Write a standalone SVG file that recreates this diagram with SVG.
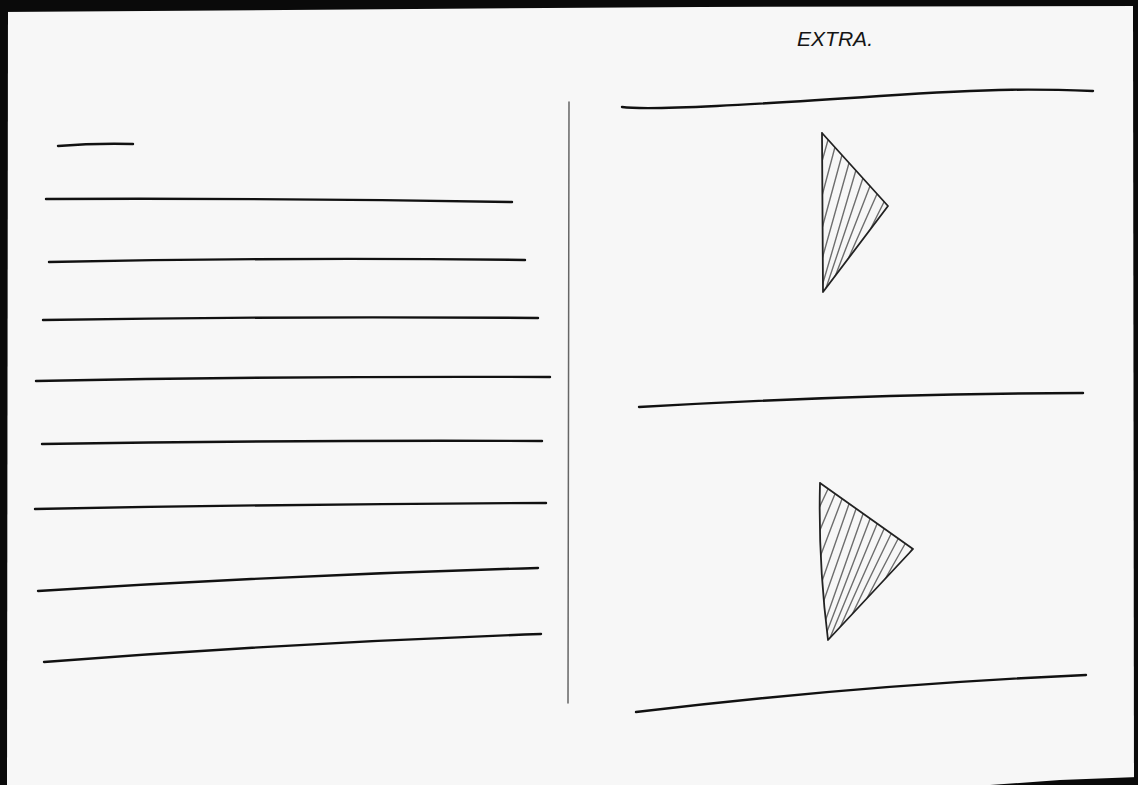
<svg xmlns="http://www.w3.org/2000/svg" width="1138" height="785" viewBox="0 0 1138 785">
<style>
.pen{fill:none;stroke:#111;stroke-width:2.4;stroke-linecap:round;stroke-linejoin:round}
.div{fill:none;stroke:#666;stroke-width:1.5;stroke-linecap:round}
.hatch{fill:none;stroke:#6e6e6e;stroke-width:1.4;stroke-linecap:round}
.edge{fill:none;stroke:#222;stroke-width:1.8;stroke-linecap:round;stroke-linejoin:round}
.frame{fill:#0a0a0a}
</style>
<defs>
<clipPath id="c1"><path d="M822,133 L888,206 L823,292 Z"/></clipPath>
<clipPath id="c2"><path d="M820,483 L913,549 L828,640 Q818,560 820,483 Z"/></clipPath>
</defs>
<rect x="0" y="0" width="1138" height="785" fill="#f7f7f7"/>
<g id="frame">
<path class="frame" d="M0,0 L1138,0 L1138,6 L700,7 L0,12 Z"/>
<path class="frame" d="M0,0 L8,0 L7,785 L0,785 Z"/>
<path class="frame" d="M1133,6 L1138,6 L1138,785 L1134,785 Z"/>
<path class="frame" d="M990,785 L1138,785 L1138,777 L1060,780 Z"/>
</g>
<g id="title">
<text x="797" y="46" font-family="Liberation Sans, sans-serif" font-size="21" font-style="italic" fill="#151515" textLength="76" lengthAdjust="spacingAndGlyphs">EXTRA.</text>
</g>
<g id="left-lines">
<path class="pen" d="M58,146 Q95,143 133,144"/>
<path class="pen" d="M46,199 Q280,198 512,202"/>
<path class="pen" d="M49,262 Q290,257 525,260"/>
<path class="pen" d="M43,320 Q290,316 538,318"/>
<path class="pen" d="M36,381 Q290,376 550,377"/>
<path class="pen" d="M42,444 Q290,440 542,441"/>
<path class="pen" d="M35,509 Q290,504 546,503"/>
<path class="pen" d="M38,591 Q290,575 538,568"/>
<path class="pen" d="M44,662 Q290,643 541,634"/>
</g>
<g id="divider">
<path class="div" d="M569,102 L568,703"/>
</g>
<g id="right-lines">
<path class="pen" d="M622,107 C650,111 760,104 880,96 S1040,89 1093,91"/>
<path class="pen" d="M639,407 Q860,394 1083,393"/>
<path class="pen" d="M636,712 Q860,685 1086,675"/>
</g>
<g id="triangle-top">
<g clip-path="url(#c1)">
<path class="hatch" d="M828,140 L800,240 M835,147 L805,260 M842,155 L808,280 M849,163 L812,295 M856,170 L818,300 M863,178 L822,300 M870,186 L826,300 M877,194 L830,300 M884,202 L835,300"/>
</g>
<path class="edge" d="M822,133 L888,206 L823,292 L822,133"/>
</g>
<g id="triangle-bottom">
<g clip-path="url(#c2)">
<path class="hatch" d="M828,489 L790,570 M835,494 L795,590 M842,499 L800,610 M849,504 L805,630 M856,509 L810,640 M863,514 L815,650 M870,519 L820,650 M877,524 L825,650 M884,529 L830,650 M891,534 L835,650 M898,539 L840,650 M905,544 L845,650 M912,549 L850,650"/>
</g>
<path class="edge" d="M820,483 L913,549 L828,640 Q818,560 820,483"/>
</g>
</svg>
